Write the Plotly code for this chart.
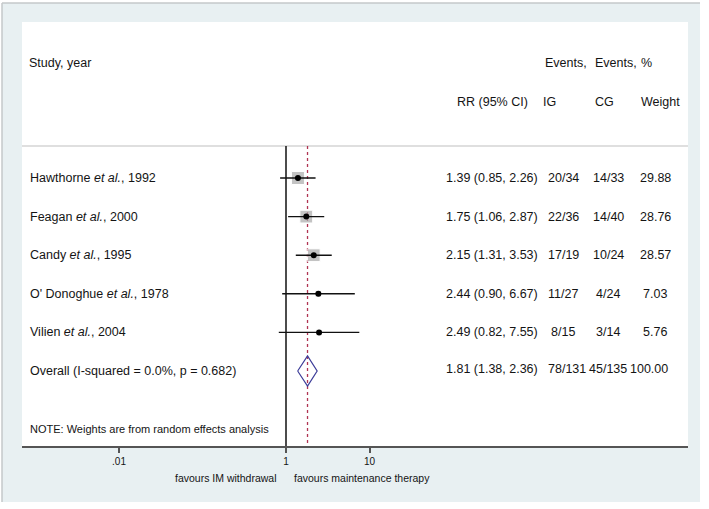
import math
import plotly.graph_objects as go

# ---- data ----
studies = ["Hawthorne <i>et al.</i>, 1992", "Feagan <i>et al.</i>, 2000", "Candy <i>et al.</i>, 1995",
           "O' Donoghue <i>et al.</i>, 1978", "Vilien <i>et al.</i>, 2004"]
rr = [1.39, 1.75, 2.15, 2.44, 2.49]
ci_low = [0.85, 1.06, 1.31, 0.90, 0.82]
ci_high = [2.26, 2.87, 3.53, 6.67, 7.55]
events_ig = ["20/34", "22/36", "17/19", "11/27", "8/15"]
events_cg = ["14/33", "14/40", "10/24", "4/24", "3/14"]
weights = [29.88, 28.76, 28.57, 7.03, 5.76]

overall_label = "Overall (I-squared = 0.0%, p = 0.682)"
overall_rr = 1.81
overall_low = 1.38
overall_high = 2.36
overall_ig = "78/131"
overall_cg = "45/135"
overall_weight = "100.00"

tick_vals = [0.01, 1, 10]
tick_text = [".01", "1", "10"]
note = "NOTE: Weights are from random effects analysis"
left_label = "favours IM withdrawal"
right_label = "favours maintenance therapy"

# ---- layout geometry (pixels) ----
W, H = 709, 509
L, R, T, B = 22, 688, 22, 446
pw, ph = R - L, B - T


def px_x(p):
    return (p - L) / pw


def px_y(p):
    return (B - p) / ph


rows = list(range(1, len(studies) + 1))
overall_row = len(studies) + 1
y_top, y_bot = -3.0415, 7.943
sep_y = 0.171
FONT = "Liberation Sans, Arial, sans-serif"
TXT = "#141414"

fig = go.Figure()

# vertical reference line at 1
fig.add_trace(go.Scatter(x=[1, 1], y=[sep_y, y_bot], mode="lines",
                         line=dict(color="#111111", width=1.5), hoverinfo="skip"))
# dashed line at overall estimate
fig.add_trace(go.Scatter(x=[overall_rr, overall_rr], y=[sep_y, y_bot], mode="lines",
                         line=dict(color="#b03452", width=1.3, dash="3px,3px"), hoverinfo="skip"))

# weight boxes
fig.add_trace(go.Scatter(x=rr, y=rows, mode="markers",
                         marker=dict(symbol="square", color="#ababab",
                                     size=[13 * math.sqrt(w / weights[0]) for w in weights]),
                         hoverinfo="skip"))
# CI lines
cx, cy = [], []
for lo, hi, r in zip(ci_low, ci_high, rows):
    cx += [lo, hi, None]
    cy += [r, r, None]
fig.add_trace(go.Scatter(x=cx, y=cy, mode="lines", line=dict(color="#111111", width=1.4),
                         hoverinfo="skip"))
# point estimates
fig.add_trace(go.Scatter(x=rr, y=rows, mode="markers",
                         marker=dict(symbol="circle", color="#000000", size=6), hoverinfo="skip"))
# overall diamond
dh = 0.39
fig.add_trace(go.Scatter(x=[overall_low, overall_rr, overall_high, overall_rr, overall_low],
                         y=[overall_row, overall_row - dh, overall_row, overall_row + dh, overall_row],
                         mode="lines", line=dict(color="#3d3d99", width=1.2), hoverinfo="skip"))

ann = []


def add_text(text, x, y, anchor="left", size=12.5, yref="y"):
    ann.append(dict(text=text, x=x, y=y, xref="paper", yref=yref, xanchor=anchor,
                    yanchor="middle", showarrow=False, font=dict(family=FONT, size=size, color=TXT)))


# headers
add_text("Study, year", px_x(27), -1.979)
add_text("Events,", px_x(543), -1.979)
add_text("Events,", px_x(593), -1.979)
add_text("%", px_x(639), -1.979)
add_text("RR (95% CI)", px_x(492), -0.969, anchor="center")
add_text("IG", px_x(541), -0.969)
add_text("CG", px_x(593), -0.969)
add_text("Weight", px_x(639), -0.969)

# study rows
for s, r, lo, hi, ig, cg, w, row in zip(studies, rr, ci_low, ci_high, events_ig, events_cg, weights, rows):
    add_text(s, px_x(28), row)
    add_text(f"{r:.2f} ({lo:.2f}, {hi:.2f})", px_x(492), row, anchor="center")
    add_text(ig, px_x(563), row, anchor="center")
    add_text(cg, px_x(608), row, anchor="center")
    add_text(f"{w:.2f}", px_x(655), row, anchor="center")

# overall row
add_text(overall_label, px_x(28), overall_row)
add_text(f"{overall_rr:.2f} ({overall_low:.2f}, {overall_high:.2f})", px_x(492), overall_row - 0.05, anchor="center")
add_text(overall_ig, px_x(567), overall_row - 0.05, anchor="center")
add_text(overall_cg, px_x(608), overall_row - 0.05, anchor="center")
add_text(overall_weight, px_x(649), overall_row - 0.05, anchor="center")

# note
add_text(note, px_x(28), 7.50, size=11)

# favours labels
ann.append(dict(text=left_label, x=0, y=px_y(478), xref="x", yref="paper", xanchor="right",
                yanchor="middle", xshift=-7, showarrow=False, font=dict(family=FONT, size=10.5, color=TXT)))
ann.append(dict(text=right_label, x=0, y=px_y(478), xref="x", yref="paper", xanchor="left",
                yanchor="middle", xshift=6, showarrow=False, font=dict(family=FONT, size=10.5, color=TXT)))

shapes = [
    # outer light frame
    dict(type="rect", xref="paper", yref="paper", x0=px_x(2), x1=px_x(700), y0=px_y(502), y1=px_y(3),
         fillcolor="#e8f0f2", line=dict(width=0), layer="below"),
    dict(type="line", xref="paper", yref="paper", x0=px_x(2), x1=px_x(700), y0=px_y(3), y1=px_y(3),
         line=dict(color="#c4c8ca", width=1.5), layer="below"),
    dict(type="line", xref="paper", yref="paper", x0=px_x(2), x1=px_x(2), y0=px_y(3), y1=px_y(502),
         line=dict(color="#c4c8ca", width=1.5), layer="below"),
    # white plot panel
    dict(type="rect", xref="paper", yref="paper", x0=0, x1=1, y0=0, y1=1,
         fillcolor="#ffffff", line=dict(width=0), layer="below"),
    # separator under headers
    dict(type="line", xref="paper", yref="y", x0=0, x1=1, y0=sep_y, y1=sep_y,
         line=dict(color="#d4d4d4", width=1.5), layer="below"),
]

fig.update_layout(
    width=W, height=H,
    margin=dict(l=L, r=W - R, t=T, b=H - B),
    paper_bgcolor="#ffffff",
    plot_bgcolor="rgba(0,0,0,0)",
    showlegend=False,
    annotations=ann,
    shapes=shapes,
    font=dict(family=FONT, color=TXT),
    xaxis=dict(type="log", range=[(L - 286) / 83.5, (R - 286) / 83.5],
               tickvals=tick_vals, ticktext=tick_text, ticks="outside", ticklen=5,
               tickwidth=1.5, tickcolor="#555555", showline=True, linecolor="#555555",
               linewidth=2, showgrid=False, zeroline=False,
               tickfont=dict(family=FONT, size=10, color=TXT), fixedrange=True),
    yaxis=dict(range=[y_bot, y_top], visible=False, showgrid=False, zeroline=False, fixedrange=True),
)

fig.write_html("out.html", config={"displayModeBar": False},
               post_script="document.body.style.margin='0px';document.body.style.overflow='hidden';")
